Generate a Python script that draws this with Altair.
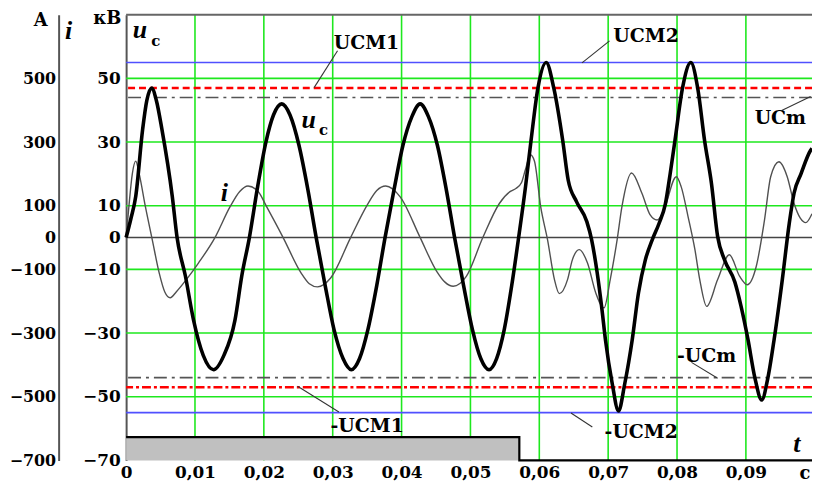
import altair as alt
import pandas as pd

# ---------------- data ----------------
# capacitor voltage u_c, kV
uc_t = [0.0000, 0.0007, 0.0014, 0.0024, 0.0030, 0.0037, 0.0044, 0.0052, 0.0067, 0.0074,
        0.0086, 0.0098, 0.0112, 0.0127, 0.0142, 0.0158, 0.0168, 0.0179, 0.0191, 0.0203,
        0.0214, 0.0226, 0.0238, 0.0251, 0.0264, 0.0276, 0.0289, 0.0302, 0.0315, 0.0327,
        0.0339, 0.0351, 0.0364, 0.0376, 0.0389, 0.0402, 0.0415, 0.0427, 0.0439, 0.0452,
        0.0465, 0.0477, 0.0490, 0.0503, 0.0515, 0.0527, 0.0538, 0.0549, 0.0560, 0.0570,
        0.0580, 0.0588, 0.0598, 0.0610, 0.0621, 0.0634, 0.0642, 0.0654, 0.0669, 0.0676,
        0.0684, 0.0691, 0.0696, 0.0706, 0.0715, 0.0724, 0.0735, 0.0744, 0.0754, 0.0764,
        0.0774, 0.0783, 0.0790, 0.0797, 0.0808, 0.0820, 0.0830, 0.0840, 0.0850, 0.0859,
        0.0869, 0.0884, 0.0893, 0.0903, 0.0913, 0.0923, 0.0932, 0.0941, 0.0953, 0.0963,
        0.0970, 0.0980, 0.0994, 0.0996]
uc_v = [0, 6, 13, 34, 43, 47, 43, 34, 13, 0,
        -12, -26, -37, -41.5, -37, -26, -12, 0, 16, 30,
        38.5, 42, 38.5, 29, 15, 0, -15, -29, -38, -41.5,
        -38, -29, -15, 0, 15, 29, 38, 42, 38, 29,
        15, 0, -15, -29, -38, -41.5, -38, -29, -15, 0,
        16, 30.5, 47, 55, 47, 30.5, 18, 11.3, 5, -0.7,
        -11, -22.6, -32, -46, -54.5, -46, -32, -17.4, -7, -0.7,
        4.5, 10.5, 20, 30.5, 47, 55, 47, 30.5, 17, 0.3,
        -7, -14, -21.6, -32, -44, -51, -44, -32, -13, 4.5,
        14, 20, 27.4, 28]

# current i, A
i_t = [0.0000, 0.0004, 0.0009, 0.0014, 0.0019, 0.0028, 0.0038, 0.0048, 0.0056, 0.0064,
       0.0073, 0.0091, 0.0105, 0.0129, 0.0151, 0.0165, 0.0177, 0.0192, 0.0204, 0.0228,
       0.0254, 0.0266, 0.0278, 0.0297, 0.0326, 0.0350, 0.0364, 0.0377, 0.0398, 0.0427,
       0.0451, 0.0463, 0.0475, 0.0494, 0.0518, 0.0542, 0.0558, 0.0566, 0.0574, 0.0580,
       0.0587, 0.0593, 0.0602, 0.0612, 0.0622, 0.0629, 0.0641, 0.0648, 0.0658, 0.0670,
       0.0682, 0.0694, 0.0703, 0.0713, 0.0720, 0.0734, 0.0749, 0.0761, 0.0771, 0.0780,
       0.0799, 0.0806, 0.0816, 0.0826, 0.0833, 0.0843, 0.0859, 0.0876, 0.0891, 0.0902,
       0.0915, 0.0927, 0.0936, 0.0948, 0.0960, 0.0970, 0.0979, 0.0987, 0.0996]
i_v = [0, 97, 200, 240, 200, 97, -7, -111, -170, -189,
       -170, -122, -80, 0, 97, 145, 162, 144, 97, 0,
       -111, -145, -155, -127, 0, 102, 148, 162, 128, 0,
       -106, -140, -153, -122, 0, 107, 145, 154, 172, 215,
       260, 240, 97, -7, -132, -176, -132, -70, -38, -80,
       -174, -221, -132, -7, 97, 203, 139, 71, 55, 81,
       191, 160, 66, -38, -132, -216, -132, -54, -122, -148,
       -91, 55, 191, 238, 191, 107, 61, 47, 75]

# control pulse (grey bar)
step_t = [0.0, 0.0571, 0.0571, 0.0996]
step_v = [-62.7, -62.7, -70, -70]

# reference levels, kV
ref_name = ["UCM2", "UCM1", "UCm", "-UCm", "-UCM1", "-UCM2"]
ref_v = [55, 47, 44, -44, -47, -55]

# grid and ticks
grid_t = [0.01, 0.02, 0.03, 0.04, 0.05, 0.06, 0.07, 0.08, 0.09]
grid_u = [50, 30, 10, -10, -30, -50]
x_ticks = [0, 0.01, 0.02, 0.03, 0.04, 0.05, 0.06, 0.07, 0.08, 0.09]
u_ticks = [50, 30, 10, 0, -10, -30, -50, -70]
i_ticks = [500, 300, 100, 0, -100, -300, -500, -700]

# annotations (anchor in data units)
ann_text = ["UCM1", "UCM2", "UCm", "-UCM1", "-UCM2", "-UCm"]
ann_t = [0.0349, 0.0755, 0.0950, 0.0350, 0.0748, 0.0843]
ann_v = [61.2, 63.3, 37.4, -59.2, -61.0, -37.3]
lead_t1 = [0.0307, 0.0702, 0.0952, 0.0249, 0.0646, 0.0821]
lead_v1 = [58.7, 61.8, 39.9, -46.7, -55.1, -39.2]
lead_t2 = [0.0273, 0.0662, 0.0994, 0.0309, 0.0677, 0.0859]
lead_v2 = [47.1, 54.9, 44.3, -54.8, -59.5, -44.2]

# ---------------- chart ----------------
FONT = "DejaVu Serif"
GREEN = "#1ee81e"
BLUE = "#5050ff"
RED = "#ff0000"
DGRAY = "#555555"

xs = alt.Scale(domain=[0, 0.0996], nice=False, zero=False)

x_axis = alt.Axis(values=x_ticks, title=None, ticks=False, tickSize=0, domain=False, grid=False,
                  labelFont=FONT, labelFontWeight="bold", labelFontSize=17, labelPadding=4,
                  labelColor="black", labelOverlap=False, labelFlush=False,
                  labelExpr="datum.value == 0 ? '0' : replace(format(datum.value, '.2f'), '.', ',')")


def us():
    return alt.Scale(domain=[-70, 70], nice=False, zero=False)


def X(f="t"):
    return alt.X(f"{f}:Q", scale=xs, axis=x_axis)


def Y(f="v"):
    return alt.Y(f"{f}:Q", scale=us(), axis=None)


uc_df = pd.DataFrame({"t": uc_t, "v": uc_v})
i_df = pd.DataFrame({"t": i_t, "i": i_v})
step_df = pd.DataFrame({"t": step_t, "v": step_v, "k": list(range(len(step_t)))})
bar_df = pd.DataFrame({"t": [step_t[0]], "t1": [step_t[1]], "v0": [step_v[2]], "v1": [step_v[0]]})
ref_df = pd.DataFrame({"name": ref_name, "v": ref_v})
ann_df = pd.DataFrame({"text": ann_text, "t": ann_t, "v": ann_v})
lead_df = pd.DataFrame({"t": lead_t1, "v1": lead_v1, "t2": lead_t2, "v2": lead_v2})

grid_v = alt.Chart(pd.DataFrame({"t": grid_t})).mark_rule(color=GREEN, strokeWidth=1.6).encode(x=X())
grid_h = alt.Chart(pd.DataFrame({"v": grid_u})).mark_rule(color=GREEN, strokeWidth=1.6).encode(y=Y())
zero = alt.Chart(pd.DataFrame({"v": [0]})).mark_rule(color="#444444", strokeWidth=1.6).encode(y=Y())
top = alt.Chart(pd.DataFrame({"v": [70]})).mark_rule(color="#666666", strokeWidth=2).encode(y=Y())

blue = alt.Chart(ref_df).transform_filter("abs(datum.v) == 55").mark_rule(
    color=BLUE, strokeWidth=1.6).encode(y=Y())
red_pos = alt.Chart(ref_df).transform_filter("datum.v == 47").mark_rule(
    color=RED, strokeWidth=2.6, strokeDash=[7, 4]).encode(y=Y())
red_neg = alt.Chart(ref_df).transform_filter("datum.v == -47").mark_rule(
    color=RED, strokeWidth=2.6, strokeDash=[9, 3, 3, 3]).encode(y=Y())
gray_dd = alt.Chart(ref_df).transform_filter("abs(datum.v) == 44").mark_rule(
    color=DGRAY, strokeWidth=1.6, strokeDash=[13, 5, 3, 5]).encode(y=Y())

bar = alt.Chart(bar_df).mark_rect(color="#c0c0c0").encode(
    x=X("t"), x2="t1:Q", y=Y("v0"), y2="v1:Q")
step = alt.Chart(step_df).mark_line(color="black", strokeWidth=2.2).encode(
    x=X(), y=Y(), order="k:Q")

i_axis = alt.Axis(orient="left", offset=68, values=i_ticks, title=None, ticks=False, tickSize=0,
                  domainColor=DGRAY, domainWidth=2, labelFont=FONT, labelFontWeight="bold",
                  labelFontSize=16, labelPadding=3, labelColor="black", grid=False,
                  labelOverlap=False, labelFlush=False)
i_line = alt.Chart(i_df).mark_line(color="#505050", strokeWidth=1.4, interpolate="monotone").encode(
    x=X(), y=alt.Y("i:Q", scale=alt.Scale(domain=[-700, 700], nice=False, zero=False), axis=i_axis))

u_axis = alt.Axis(orient="left", values=u_ticks, title=None, ticks=False, tickSize=0,
                  domainColor=DGRAY, domainWidth=2, labelFont=FONT, labelFontWeight="bold",
                  labelFontSize=17, labelPadding=6, labelColor="black", grid=False,
                  labelOverlap=False, labelFlush=False)
u_line = alt.Chart(uc_df).mark_line(color="black", strokeWidth=3.6, interpolate="monotone").encode(
    x=X(), y=alt.Y("v:Q", scale=us(), axis=u_axis))

leaders = alt.Chart(lead_df).mark_rule(color="#333333", strokeWidth=1.1).encode(
    x=X("t"), x2="t2:Q", y=Y("v1"), y2="v2:Q")
ann = alt.Chart(ann_df).mark_text(font=FONT, fontWeight="bold", fontSize=19, color="black",
                                  align="center", baseline="middle").encode(
    x=X(), y=Y(), text="text:N")

# symbol labels (anchored in data units)
lab_bold = pd.DataFrame({"text": ["A", "кВ", "с"], "t": [-0.01239, -0.00274, 0.09856],
                         "v": [68.0, 68.7, -74.2]})
lab_it = pd.DataFrame({"text": ["i", "u", "u", "i", "t"],
                       "t": [-0.00836, 0.00202, 0.02651, 0.01427, 0.09741],
                       "v": [64.9, 65.2, 36.8, 14.0, -64.9]})
lab_sub = pd.DataFrame({"text": ["c", "c"], "t": [0.00432, 0.02867], "v": [61.8, 33.7]})

t_bold = alt.Chart(lab_bold).mark_text(font=FONT, fontWeight="bold", fontSize=18, color="black",
                                       align="center", baseline="middle").encode(x=X(), y=Y(), text="text:N")
t_it = alt.Chart(lab_it).mark_text(font="Liberation Serif", fontWeight="bold", fontStyle="italic",
                                   fontSize=26, color="black", align="center", baseline="middle").encode(
    x=X(), y=Y(), text="text:N")
t_sub = alt.Chart(lab_sub).mark_text(font=FONT, fontWeight="bold", fontSize=15, color="black",
                                     align="center", baseline="middle").encode(x=X(), y=Y(), text="text:N")

chart = alt.layer(
    grid_v, grid_h, blue, red_pos, red_neg, gray_dd, zero, top, bar, step,
    i_line, u_line, leaders, ann, t_bold, t_it, t_sub
).resolve_scale(y="independent").properties(
    width=691, height=449, autosize="none",
    padding={"left": 119, "top": 5, "right": 0, "bottom": 24}
).configure_view(stroke=None)

chart.save("out.html", embed_options={"renderer": "svg", "actions": False})
